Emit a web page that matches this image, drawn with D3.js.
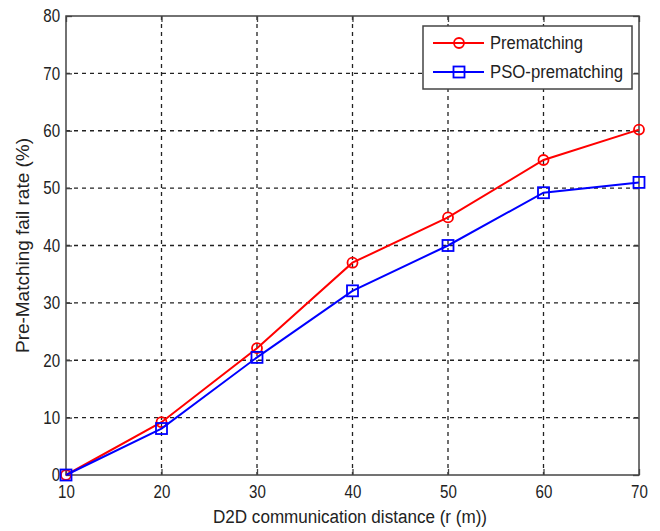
<!DOCTYPE html>
<html><head><meta charset="utf-8">
<script src="https://cdn.jsdelivr.net/npm/d3@7"></script>
<style>
body{margin:0;background:#fff;}
text{font-family:"Liberation Sans",Arial,sans-serif;}
</style></head>
<body><svg id="c" width="660" height="531"></svg>
<script>
const distances = [10, 20, 30, 40, 50, 60, 70];
const prematching = [0, 9.2, 22.1, 37.0, 44.9, 54.9, 60.2];
const psoPrematching = [0, 8.1, 20.5, 32.1, 40.0, 49.2, 51.0];
const xTicks = [10, 20, 30, 40, 50, 60, 70];
const yTicks = [0, 10, 20, 30, 40, 50, 60, 70, 80];
const seriesNames = ["Prematching", "PSO-prematching"];
const seriesColors = ["#ff0000", "#0000ff"];

const svg = d3.select("#c");
const L = 66, R = 639, T = 16, B = 475;
const x = d3.scaleLinear().domain([10, 70]).range([L, R]);
const y = d3.scaleLinear().domain([0, 80]).range([B, T]);

// grid
const g = svg.append("g");
g.selectAll(".gx").data(xTicks.slice(1, -1)).enter().append("line")
  .attr("x1", d => x(d)).attr("x2", d => x(d)).attr("y1", T).attr("y2", B)
  .attr("stroke", "#222").attr("stroke-width", 1.3).attr("stroke-dasharray", "4,4");
g.selectAll(".gy").data(yTicks.slice(1, -1)).enter().append("line")
  .attr("x1", L).attr("x2", R).attr("y1", d => y(d)).attr("y2", d => y(d))
  .attr("stroke", "#222").attr("stroke-width", 1.3).attr("stroke-dasharray", "4,4");

// axes
const ax = d3.axisBottom(x).tickValues(xTicks).tickSize(-6).tickPadding(10).tickFormat(d3.format("d"));
const ay = d3.axisLeft(y).tickValues(yTicks).tickSize(-6).tickPadding(7).tickFormat(d3.format("d"));
const axT = d3.axisTop(x).tickValues(xTicks).tickSize(-6).tickFormat("");
const ayR = d3.axisRight(y).tickValues(yTicks).tickSize(-6).tickFormat("");
function style(sel){
  sel.select(".domain").remove();
  sel.selectAll("line").attr("stroke", "#444").attr("stroke-width", 1.3);
  sel.selectAll("text").attr("fill", "#222").style("font-size", "18px")
    .attr("transform", "scale(0.84,1)");
}
svg.append("g").attr("transform", `translate(0,${B})`).call(ax).call(style);
svg.append("g").attr("transform", `translate(${L},0)`).call(ay).call(style);
svg.append("g").attr("transform", `translate(0,${T})`).call(axT).call(style);
svg.append("g").attr("transform", `translate(${R},0)`).call(ayR).call(style);
svg.append("rect").attr("x", L).attr("y", T).attr("width", R - L).attr("height", B - T)
  .attr("fill", "none").attr("stroke", "#444").attr("stroke-width", 1.5);

// series
const allSeries = [prematching, psoPrematching];
const line = d3.line().x((d, i) => x(distances[i])).y(d => y(d));
allSeries.forEach((s, k) => {
  svg.append("path").datum(s).attr("d", line).attr("fill", "none")
    .attr("stroke", seriesColors[k]).attr("stroke-width", 2);
  if (k === 0) {
    svg.selectAll(".m0").data(s).enter().append("circle")
      .attr("cx", (d, i) => x(distances[i])).attr("cy", d => y(d)).attr("r", 5)
      .attr("fill", "none").attr("stroke", seriesColors[k]).attr("stroke-width", 1.8);
  } else {
    svg.selectAll(".m1").data(s).enter().append("rect")
      .attr("x", (d, i) => x(distances[i]) - 5.5).attr("y", d => y(d) - 5.5)
      .attr("width", 11).attr("height", 11)
      .attr("fill", "none").attr("stroke", seriesColors[k]).attr("stroke-width", 1.8);
  }
});

// legend
const legendWidths = [93, 133];
const lg = svg.append("g");
lg.append("rect").attr("x", 423).attr("y", 26).attr("width", 209).attr("height", 63)
  .attr("fill", "#fff").attr("stroke", "#444").attr("stroke-width", 1.5);
seriesNames.forEach((n, k) => {
  const ly = 43 + k * 29;
  lg.append("line").attr("x1", 433).attr("x2", 484).attr("y1", ly).attr("y2", ly)
    .attr("stroke", seriesColors[k]).attr("stroke-width", 2);
  if (k === 0) lg.append("circle").attr("cx", 459).attr("cy", ly).attr("r", 5)
    .attr("fill", "none").attr("stroke", seriesColors[k]).attr("stroke-width", 1.8);
  else lg.append("rect").attr("x", 453.5).attr("y", ly - 5.5).attr("width", 11).attr("height", 11)
    .attr("fill", "none").attr("stroke", seriesColors[k]).attr("stroke-width", 1.8);
  lg.append("text").attr("x", 490).attr("y", ly).attr("dy", "0.36em")
    .attr("textLength", legendWidths[k]).attr("lengthAdjust", "spacingAndGlyphs")
    .style("font-size", "18px").attr("fill", "#222").text(n);
});

// titles
svg.append("text").attr("x", 213).attr("y", 523)
  .attr("textLength", 274).attr("lengthAdjust", "spacingAndGlyphs")
  .style("font-size", "18px").attr("fill", "#222").text("D2D communication distance (r (m))");
svg.append("text").attr("transform", `translate(29,353) rotate(-90)`)
  .attr("textLength", 215).attr("lengthAdjust", "spacingAndGlyphs")
  .style("font-size", "18px").attr("fill", "#222")
  .text("Pre-Matching fail rate (%)");
</script></body></html>
